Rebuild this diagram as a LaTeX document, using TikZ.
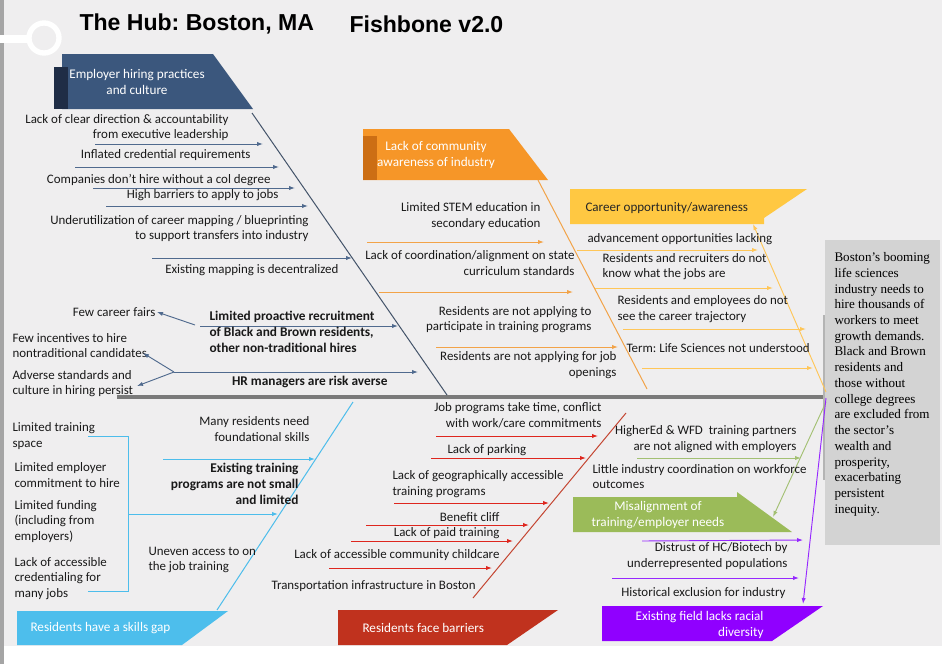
\documentclass[tikz,border=0pt]{standalone}
\usepackage{fontspec}
\setmainfont{Carlito}
\newfontfamily\hubsans{Liberation Sans}
\newfontfamily\hubserif{Liberation Serif}
\usetikzlibrary{arrows.meta}

\tikzset{every picture/.style={line width=0.75pt}}
\tikzset{
  cause/.style={inner sep=0.75pt,font=\fontsize{9.7}{11.8}\selectfont,color={rgb, 255:red, 25; green, 25; blue, 25 }},
  causeL/.style={cause,anchor=west,align=left},
  causeR/.style={cause,anchor=east,align=right},
  headtxt/.style={inner sep=0.75pt,font=\fontsize{9.9}{12}\selectfont,color=white},
  twig/.style={-{Latex[length=4.5pt,width=3.2pt]},line width=0.7pt},
  empTwig/.style={twig,color={rgb, 255:red, 80; green, 106; blue, 142 }},
  commTwig/.style={twig,color={rgb, 255:red, 242; green, 163; blue, 72 }},
  careerTwig/.style={twig,color={rgb, 255:red, 255; green, 198; blue, 88 }},
  skillTwig/.style={twig,color={rgb, 255:red, 77; green, 189; blue, 235 }},
  barrTwig/.style={twig,color={rgb, 255:red, 222; green, 38; blue, 30 }},
  misTwig/.style={twig,color={rgb, 255:red, 163; green, 192; blue, 115 }},
  fieldTwig/.style={twig,color={rgb, 255:red, 150; green, 40; blue, 255 }},
}

\begin{document}
\frenchspacing
\begin{tikzpicture}[x=0.75pt,y=0.75pt,yscale=-1,xscale=1]
\useasboundingbox (0,0) rectangle (942,664);

%page
\fill [color={rgb, 255:red, 239; green, 238; blue, 239 }] (0,0) rectangle (942,646);
\draw [color={rgb, 255:red, 165; green, 165; blue, 165 }][line width=3] (1.5,0) -- (1.5,664);
\draw [color=white][line width=6] (0,39) -- (29,39);
\draw [color=white][line width=4] (44,38) circle (15);

\draw (78,24) node [anchor=west][inner sep=0.75pt][font=\hubsans\bfseries\fontsize{17.3}{20}\selectfont] (hubTitle) {The Hub: Boston, MA};
\draw (348,24) node [anchor=west][inner sep=0.75pt][font=\hubsans\bfseries\fontsize{17.3}{20}\selectfont] (hubVersion) {Fishbone v2.0};

%spine and effect
\coordinate (spineTail) at (117,397);
\coordinate (spineHead) at (826,397);
\draw [color={rgb, 255:red, 122; green, 122; blue, 122 }][line width=2.5] (spineTail) -- (spineHead);
\fill [color={rgb, 255:red, 211; green, 211; blue, 211 }] (825,240) rectangle (940,545);
\draw [color={rgb, 255:red, 180; green, 180; blue, 180 }][line width=2] (824,315) -- (824,480);
\draw (833,251) node [anchor=north west][inner sep=0.75pt][font=\hubserif\fontsize{9.8}{11.8}\selectfont][align=left] (effect) {Boston’s booming\\life sciences\\industry needs to\\hire thousands of\\workers to meet\\growth demands.\\Black and Brown\\residents and\\those without\\college degrees\\are excluded from\\the sector’s\\wealth and\\prosperity,\\exacerbating\\persistent\\inequity.};

%employer hiring practices
\fill [color={rgb, 255:red, 59; green, 87; blue, 125 }] (62,54) -- (213,54) -- (253,109) -- (62,109) -- cycle;
\fill [color={rgb, 255:red, 31; green, 45; blue, 70 }] (54,67) rectangle (68,109);
\draw (137,82) node [headtxt][align=center] (hEmp) {Employer hiring practices\\and culture};
\coordinate (empTop) at (252,113);
\coordinate (empEnd) at (447,395);
\draw [color={rgb, 255:red, 68; green, 84; blue, 106 }] (empTop) -- (empEnd);

\draw (230,127.5) node [causeR] (tEmpLead) {Lack of clear direction \& accountability\\from executive leadership};
\draw [empTwig] (95,144) -- (263,144);
\draw (252,155) node [causeR] (tEmpCred) {Inflated credential requirements};
\draw [empTwig] (75,167) -- (279,167);
\draw (272,180) node [causeR] (tEmpDegree) {Companies don’t hire without a col degree};
\draw [empTwig] (93,188) -- (295,188);
\draw (280,195) node [causeR] (tEmpBarrier) {High barriers to apply to jobs};
\draw [empTwig] (106,206) -- (308,206);
\draw (310,228.5) node [causeR] (tEmpMapping) {Underutilization of career mapping / blueprinting\\to support transfers into industry};
\draw [empTwig] (152,258) -- (352,258);
\draw (340,270) node [causeR] (tEmpDecentral) {Existing mapping is decentralized};
\draw (157,312) node [causeR] (tEmpFairs) {Few career fairs};
\draw [empTwig] (195,325) -- (tEmpFairs.east);
\draw [empTwig] (200,326) -- (398,326);
\draw (208,332) node [causeL][font=\bfseries] (tEmpRecruit) {Limited proactive recruitment\\of Black and Brown residents,\\other non-traditional hires};
\draw (11,345.5) node [causeL] (tEmpIncent) {Few incentives to hire\\nontraditional candidates};
\draw (11,383.5) node [causeL] (tEmpAdverse) {Adverse standards and\\culture in hiring persist};
\coordinate (empFork) at (174,372);
\draw [empTwig] (empFork) -- (143,353);
\draw [empTwig] (empFork) -- (137,386);
\draw [empTwig] (empFork) -- (418,372);
\draw (389,382) node [causeR][font=\bfseries] (tEmpRisk) {HR managers are risk averse};

%lack of community awareness
\fill [color={rgb, 255:red, 246; green, 150; blue, 40 }] (363,129) -- (509,129) -- (548,180) -- (363,180) -- cycle;
\fill [color={rgb, 255:red, 204; green, 110; blue, 20 }] (363,136) rectangle (377,180);
\draw (436,155) node [headtxt][align=center] (hComm) {Lack of community\\awareness of industry};
\coordinate (commTop) at (538,180);
\coordinate (commEnd) at (647,389);
\draw [color={rgb, 255:red, 242; green, 163; blue, 72 }] (commTop) -- (commEnd);

\draw (542,216) node [causeR] (tCommStem) {Limited STEM education in\\secondary education};
\draw [commTwig] (367,242) -- (544,242);
\draw (576,263) node [causeR] (tCommCoord) {Lack of coordination/alignment on state\\curriculum standards};
\draw [commTwig] (379,292) -- (573,292);
\draw (593,319.5) node [causeR] (tCommApply) {Residents are not applying to\\participate in training programs};
\draw [commTwig] (436,347) -- (618,347);
\draw (618,365) node [causeR] (tCommJobs) {Residents are not applying for job\\openings};

%career opportunity
\fill [color={rgb, 255:red, 255; green, 200; blue, 66 }] (570,189) -- (807,189) -- (764,218) -- (764,224) -- (570,224) -- cycle;
\draw (584,208) node [anchor=west][inner sep=0.75pt][font=\fontsize{9.8}{12}\selectfont][color={rgb, 255:red, 38; green, 38; blue, 38 }] (hCareer) {Career opportunity/awareness};
\coordinate (careerRoot) at (826,392);
\coordinate (careerTip) at (753,224);
\draw [careerTwig] (careerRoot) -- (careerTip);

\draw (586,239) node [causeL] (tCarAdv) {advancement opportunities lacking};
\draw [careerTwig] (577,250) -- (758,250);
\draw (601,266.5) node [causeL] (tCarKnow) {Residents and recruiters do not\\know what the jobs are};
\draw [careerTwig] (595,288) -- (773,288);
\draw (616,309) node [causeL] (tCarTraj) {Residents and employees do not\\see the career trajectory};
\draw [careerTwig] (623,329) -- (806,329);
\draw (625,348) node [causeL] (tCarTerm) {Term: Life Sciences not understood};
\draw [careerTwig] (642,368) -- (813,368);

%skills gap
\fill [color={rgb, 255:red, 77; green, 190; blue, 236 }] (17,611) -- (228,611) -- (182,645) -- (17,645) -- cycle;
\draw (29,628) node [headtxt][anchor=west] (hSkill) {Residents have a skills gap};
\coordinate (skillBase) at (217,610);
\coordinate (skillEnd) at (353,402);
\draw [color={rgb, 255:red, 77; green, 189; blue, 235 }] (skillBase) -- (skillEnd);

\draw (11,436) node [causeL] (tSkSpace) {Limited training\\space};
\draw (13,475) node [causeL] (tSkCommit) {Limited employer\\commitment to hire};
\draw (13,521.5) node [causeL] (tSkFund) {Limited funding\\(including from\\employers)};
\draw (13,578.5) node [causeL] (tSkCred) {Lack of accessible\\credentialing for\\many jobs};
\draw [color={rgb, 255:red, 77; green, 189; blue, 235 }] (88,436) -- (128,436) -- (128,591) -- (88,591);
\draw [skillTwig] (128,514) -- (278,514);
\draw (311,429) node [causeR] (tSkFound) {Many residents need\\foundational skills};
\draw [skillTwig] (163,459) -- (315,459);
\draw (300,484) node [causeR][font=\bfseries] (tSkExist) {Existing training\\programs are not small\\and limited};
\draw (147,560) node [causeL] (tSkUneven) {Uneven access to on\\the job training};

%residents face barriers
\fill [color={rgb, 255:red, 192; green, 50; blue, 30 }] (338,610) -- (558,610) -- (507,645) -- (338,645) -- cycle;
\draw (361,628) node [headtxt][anchor=west] (hBarr) {Residents face barriers};
\coordinate (barrBase) at (473,598);
\coordinate (barrEnd) at (626,413);
\draw [color={rgb, 255:red, 196; green, 70; blue, 50 }] (barrBase) -- (barrEnd);

\draw (603,415) node [causeR] (tBarTime) {Job programs take time, conflict\\with work/care commitments};
\draw [barrTwig] (436,436) -- (598,436);
\draw (446,450) node [causeL] (tBarPark) {Lack of parking};
\draw [barrTwig] (431,458) -- (586,458);
\draw (391,484) node [causeL] (tBarGeo) {Lack of geographically accessible\\training programs};
\draw [barrTwig] (394,503) -- (549,503);
\draw (501,517) node [causeR] (tBarCliff) {Benefit cliff};
\draw [barrTwig] (366,525) -- (529,525);
\draw (501,533) node [causeR] (tBarPaid) {Lack of paid training};
\draw [barrTwig] (351,541) -- (513,541);
\draw (501,555) node [causeR] (tBarChild) {Lack of accessible community childcare};
\draw [barrTwig] (329,568) -- (492,568);
\draw (270,586) node [causeL] (tBarTrans) {Transportation infrastructure in Boston};

%misalignment
\fill [color={rgb, 255:red, 155; green, 187; blue, 89 }] (573,497) -- (737,497) -- (737,492) -- (792,532) -- (573,532) -- cycle;
\draw (658,515) node [headtxt][align=center] (hMis) {Misalignment of\\training/employer needs};
\coordinate (misRoot) at (826,402);
\coordinate (misTip) at (773,517);
\draw [misTwig] (misRoot) -- (misTip);

\draw (798,439) node [causeR] (tMisHigher) {HigherEd \& WFD\ \ training partners\\are not aligned with employers};
\draw [misTwig] (637,458) -- (801,458);
\draw (591,476.5) node [causeL] (tMisLittle) {Little industry coordination on workforce\\outcomes};

%racial diversity
\fill [color={rgb, 255:red, 144; green, 0; blue, 255 }] (602,606) -- (823,606) -- (772,641) -- (602,641) -- cycle;
\draw (765,624.5) node [headtxt][anchor=east][align=right] (hField) {Existing field lacks racial\\diversity};
\coordinate (fieldRoot) at (826,398);
\coordinate (fieldTip) at (803,604);
\draw [fieldTwig] (fieldRoot) -- (fieldTip);

\draw [fieldTwig] (642,541) -- (803,540);
\draw (789,556) node [causeR] (tFieldDistrust) {Distrust of HC/Biotech by\\underrepresented populations};
\draw [fieldTwig] (612,578) -- (799,578);
\draw (787,593) node [causeR] (tFieldHist) {Historical exclusion for industry};

\end{tikzpicture}
\end{document}
